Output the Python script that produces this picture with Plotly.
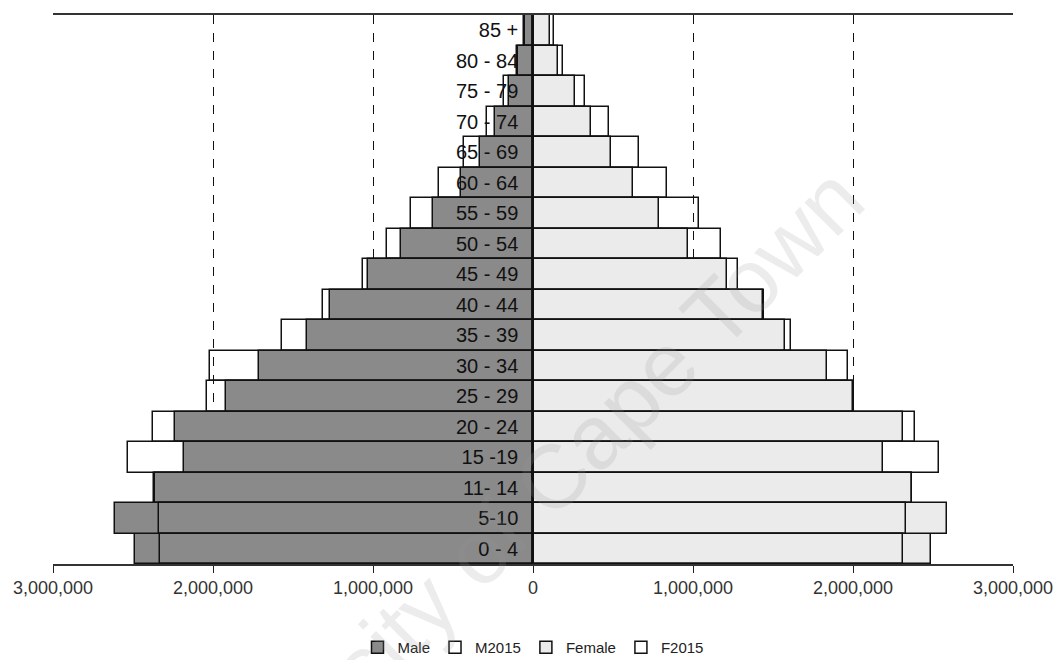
import plotly.graph_objects as go

age_groups = ["0 - 4", "5-10", "11- 14", "15 -19", "20 - 24", "25 - 29", "30 - 34",
              "35 - 39", "40 - 44", "45 - 49", "50 - 54", "55 - 59", "60 - 64",
              "65 - 69", "70 - 74", "75 - 79", "80 - 84", "85 +"]
male = [2490000, 2610000, 2370000, 2180000, 2240000, 1920000, 1710000, 1410000, 1270000,
        1030000, 825000, 625000, 450000, 330000, 240000, 150000, 94000, 56000]
m2015 = [2330000, 2340000, 2360000, 2530000, 2375000, 2040000, 2020000, 1570000, 1310000,
         1060000, 910000, 760000, 590000, 430000, 290000, 180000, 100000, 50000]
female = [2490000, 2590000, 2370000, 2190000, 2310000, 2005000, 1840000, 1575000, 1440000,
          1210000, 970000, 790000, 625000, 490000, 360000, 260000, 156000, 106000]
f2015 = [2310000, 2330000, 2370000, 2540000, 2390000, 2000000, 1970000, 1610000, 1445000,
         1280000, 1175000, 1040000, 840000, 660000, 475000, 325000, 190000, 130000]

tick_vals = [-3000000, -2000000, -1000000, 0, 1000000, 2000000, 3000000]
tick_text = ["3,000,000", "2,000,000", "1,000,000", "0", "1,000,000", "2,000,000", "3,000,000"]

line = dict(color="#111111", width=1.5)
fig = go.Figure()
fig.add_trace(go.Bar(name="Male", y=age_groups, x=[-v for v in male], orientation="h",
                     marker=dict(color="#8a8a8a", line=line)))
fig.add_trace(go.Bar(name="M2015", y=age_groups, x=[-v for v in m2015], orientation="h",
                     marker=dict(color="rgba(255,255,255,0)", line=line)))
fig.add_trace(go.Bar(name="Female", y=age_groups, x=female, orientation="h",
                     marker=dict(color="#ebebeb", line=line)))
fig.add_trace(go.Bar(name="F2015", y=age_groups, x=f2015, orientation="h",
                     marker=dict(color="rgba(255,255,255,0)", line=line)))

fig.update_layout(
    width=1061, height=660,
    margin=dict(l=53, r=48, t=15, b=96, autoexpand=False),
    paper_bgcolor="white", plot_bgcolor="white",
    barmode="overlay", bargap=0,
    font=dict(family="Liberation Sans, Arial, sans-serif", color="#222222"),
    showlegend=True,
    legend=dict(orientation="h", x=0.5, xanchor="center", y=-0.122, yanchor="top",
                font=dict(size=15, color="#222222"), itemwidth=30, traceorder="normal"),
    xaxis=dict(range=[-3000000, 3000000], tickvals=tick_vals, ticktext=tick_text,
               automargin=False,
               showgrid=True, gridcolor="#111111", griddash="dash", gridwidth=1,
               zeroline=False, showline=True, linecolor="#333333", linewidth=1.5,
               mirror=True, ticks="outside", ticklen=7, tickcolor="#222222",
               tickfont=dict(size=18, color="#333333")),
    yaxis=dict(type="category", categoryorder="array", categoryarray=age_groups,
               automargin=False,
               anchor="free", position=0.5, showline=True, linecolor="#111111",
               linewidth=1.5, showgrid=False, zeroline=False, ticks="",
               ticklabelstandoff=10, tickfont=dict(size=20, color="#111111")),
)

fig.add_annotation(text="University of Cape Town", xref="paper", yref="paper",
                   x=0.47, y=0.07, xanchor="center", yanchor="middle",
                   showarrow=False, textangle=-45,
                   font=dict(size=90, color="rgba(150,150,150,0.18)"))

fig.write_html("out.html", config={"displayModeBar": False},
               post_script="document.body.style.margin='0';document.body.style.overflow='hidden';")
